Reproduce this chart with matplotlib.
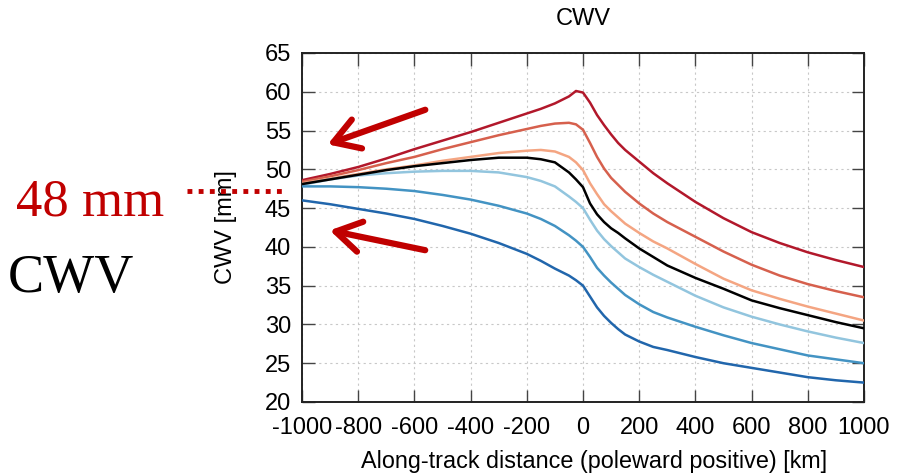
import matplotlib.pyplot as plt
from matplotlib.ticker import MultipleLocator

# along-track distance [km]
dist = [-1000, -900, -800, -700, -600, -500, -400, -300, -200, -150, -100, -50, -25,
        0, 25, 50, 75, 100, 125, 150, 200, 250, 300, 400, 500, 600, 700, 800, 900, 1000]

# CWV composites [mm], wettest to driest
cwv_darkred = [48.6, 49.4, 50.3, 51.4, 52.6, 53.7, 54.8, 56.0, 57.2, 57.8, 58.5, 59.4, 60.1,
               59.9, 58.6, 57.0, 55.7, 54.5, 53.4, 52.5, 51.0, 49.5, 48.2, 45.8, 43.7, 41.9,
               40.5, 39.3, 38.3, 37.4]
cwv_red = [48.4, 49.1, 49.9, 50.8, 51.6, 52.6, 53.5, 54.4, 55.2, 55.6, 55.9, 56.0, 55.8,
           55.1, 53.4, 51.6, 50.1, 48.9, 48.0, 47.1, 45.6, 44.3, 43.2, 41.3, 39.4, 37.7,
           36.3, 35.2, 34.3, 33.5]
cwv_orange = [48.2, 48.8, 49.4, 50.0, 50.5, 51.1, 51.6, 52.1, 52.4, 52.5, 52.3, 51.6, 50.9,
              49.9, 48.2, 46.8, 45.5, 44.6, 43.8, 43.0, 41.8, 40.7, 39.8, 37.8, 35.9, 34.4,
              33.3, 32.3, 31.4, 30.5]
cwv_mean = [48.1, 48.7, 49.3, 49.9, 50.4, 50.8, 51.2, 51.5, 51.5, 51.3, 50.9, 49.6, 48.7,
            47.7, 45.6, 44.2, 43.2, 42.4, 41.8, 41.1, 39.8, 38.7, 37.6, 36.0, 34.6, 33.1,
            32.1, 31.2, 30.3, 29.5]
cwv_lightblue = [48.0, 48.7, 49.2, 49.5, 49.7, 49.8, 49.8, 49.6, 49.0, 48.5, 47.8, 46.5, 45.8,
                 45.0, 43.5, 42.1, 41.0, 40.1, 39.3, 38.5, 37.4, 36.4, 35.5, 33.7, 32.2, 31.0,
                 30.0, 29.1, 28.3, 27.6]
cwv_blue = [47.8, 47.8, 47.7, 47.5, 47.2, 46.7, 46.1, 45.3, 44.3, 43.6, 42.7, 41.5, 40.8,
            40.0, 38.7, 37.3, 36.3, 35.4, 34.6, 33.8, 32.6, 31.6, 30.9, 29.7, 28.6, 27.6,
            26.8, 26.0, 25.5, 25.0]
cwv_darkblue = [46.0, 45.5, 44.9, 44.3, 43.6, 42.7, 41.7, 40.5, 39.1, 38.2, 37.2, 36.3, 35.7,
                35.0, 33.6, 32.2, 31.1, 30.2, 29.4, 28.7, 27.8, 27.1, 26.7, 25.8, 25.0, 24.4,
                23.8, 23.2, 22.8, 22.5]

series = [cwv_darkred, cwv_red, cwv_orange, cwv_lightblue, cwv_blue, cwv_darkblue, cwv_mean]
colors = ["#b2182b", "#d6604d", "#f4a582", "#92c5de", "#4393c3", "#2166ac", "black"]

plt.rcParams['font.family'] = ['Liberation Sans', 'DejaVu Sans']
plt.rcParams['axes.unicode_minus'] = False

fig = plt.figure(figsize=(8.97, 4.74), dpi=100)
ax = fig.add_axes([0.3367, 0.1519, 0.6265, 0.7363])

for vals, c in zip(series, colors):
    ax.plot(dist, vals, color=c, lw=1.8, zorder=3)

ax.set_xlim(-1000, 1000)
ax.set_ylim(20, 65)
ax.xaxis.set_major_locator(MultipleLocator(200))
ax.yaxis.set_major_locator(MultipleLocator(5))
ax.grid(True, ls=(0, (2, 3)), color="#c8c8c8", lw=0.8)
ax.tick_params(direction="in", length=9, width=1.0, color="#444444",
               top=True, right=True, labelsize=17)
ax.tick_params(axis="x", pad=11)
ax.tick_params(axis="y", pad=8)
for s in ax.spines.values():
    s.set_linewidth(1.4)
    s.set_color("#222222")

ax.set_title("CWV", fontsize=17, pad=20)
ax.set_xlabel("Along-track distance (poleward positive) [km]", fontsize=16.8)
ax.xaxis.set_label_coords(0.52, -0.137)
ax.xaxis.label.set_va("top")
ax.set_ylabel("CWV [mm]", fontsize=17, labelpad=20)

# overlaid annotation arrows
arrow = dict(arrowstyle="->,head_length=0.9,head_width=0.55", color="#c00000", lw=4.5,
             mutation_scale=20)
ax.annotate("", xy=(-918, 53.1), xytext=(-552, 57.8), arrowprops=arrow, annotation_clip=False)
ax.annotate("", xy=(-911, 42.2), xytext=(-552, 39.5), arrowprops=arrow, annotation_clip=False)

# text on the left
fig.text(90 / 897, 1 - 215 / 474, "48 mm", color="#c00000", fontsize=38,
         family="Liberation Serif", ha="center", va="baseline")
fig.text(71 / 897, 1 - 292 / 474, "CWV", color="black", fontsize=39,
         family="Liberation Serif", ha="center", va="baseline")
fig.add_artist(plt.Line2D([187 / 897, 283 / 897], [1 - 191 / 474, 1 - 191 / 474],
                          color="#c00000", lw=3.5, ls=(0, (1, 1.3))))

fig.savefig("out.png", dpi=100)
